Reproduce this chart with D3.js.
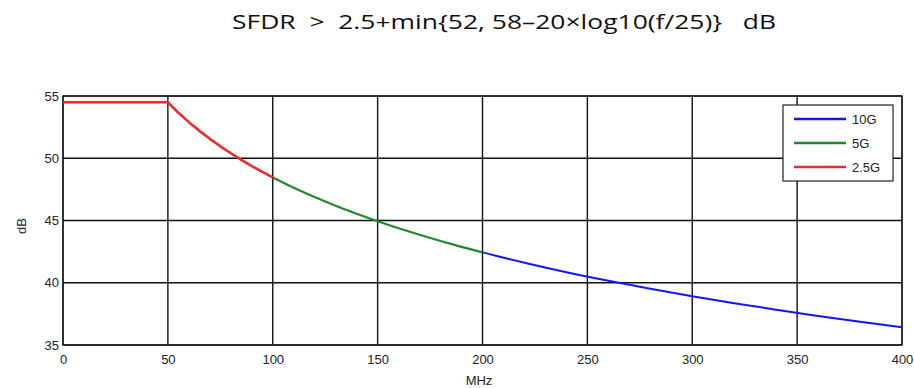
<!DOCTYPE html>
<html><head><meta charset="utf-8">
<script src="https://cdn.jsdelivr.net/npm/d3@7"></script>
<style>body{margin:0;background:#fff}svg{display:block}</style>
</head><body>
<svg id="c" width="914" height="388"></svg>
<script>
const xTicks = [0,50,100,150,200,250,300,350,400];
const yTicks = [35,40,45,50,55];
const redF   = [0,10,20,30,40,50,55,60,65,70,75,80,85,90,95,100];
const redV   = [54.5,54.5,54.5,54.5,54.5,54.5,53.65,52.9,52.2,51.56,50.96,50.4,49.87,49.37,48.9,48.46];
const greenF = [100,110,120,130,140,150,160,170,180,190,200];
const greenV = [48.46,47.63,46.88,46.18,45.54,44.94,44.38,43.85,43.35,42.88,42.44];
const blueF  = [200,220,240,260,280,300,320,340,360,380,400];
const blueV  = [42.44,41.61,40.85,40.16,39.52,38.92,38.36,37.83,37.33,36.86,36.42];
const legendLabels = ["10G","5G","2.5G"];
const colors = ["#1414ff","#23862f","#ec2a2f"];

const svg = d3.select("#c");
const L=63, R=902, T=96, B=345;
const x = d3.scaleLinear().domain([0,400]).range([L,R]);
const y = d3.scaleLinear().domain([35,55]).range([B,T]);

svg.append("text").attr("x",504).attr("y",29).attr("text-anchor","middle")
  .attr("font-family","Open Sans, sans-serif").attr("font-size",20).attr("fill","#111")
  .style("white-space","pre")
  .attr("textLength",544).attr("lengthAdjust","spacingAndGlyphs")
  .text("SFDR  >  2.5+min{52, 58–20×log10(f/25)}   dB");

// grid
const g = svg.append("g");
g.selectAll(".vg").data(xTicks).join("line")
  .attr("x1",d=>x(d)).attr("x2",d=>x(d)).attr("y1",T).attr("y2",B)
  .attr("stroke","#111").attr("stroke-width",1.4);
g.selectAll(".hg").data(yTicks).join("line")
  .attr("x1",L).attr("x2",R).attr("y1",d=>y(d)).attr("y2",d=>y(d))
  .attr("stroke","#111").attr("stroke-width",1.4);
g.append("rect").attr("x",L).attr("y",T).attr("width",R-L).attr("height",B-T)
  .attr("fill","none").attr("stroke","#222").attr("stroke-width",1.4);

// axes labels
const xa = d3.axisBottom(x).tickValues(xTicks).tickSize(0).tickPadding(10);
svg.append("g").attr("transform",`translate(0,${B})`).call(xa)
  .call(s=>s.select(".domain").remove())
  .selectAll("text").attr("font-family","Liberation Sans, Arial, sans-serif").attr("font-size",13).attr("fill","#222");
const ya = d3.axisLeft(y).tickValues(yTicks).tickSize(0).tickPadding(4);
svg.append("g").attr("transform",`translate(${L},0)`).call(ya)
  .call(s=>s.select(".domain").remove())
  .selectAll("text").attr("font-family","Liberation Sans, Arial, sans-serif").attr("font-size",13).attr("fill","#222");

svg.append("text").attr("x",479).attr("y",385).attr("text-anchor","middle")
  .attr("font-family","Liberation Sans, Arial, sans-serif").attr("font-size",13).attr("fill","#222").text("MHz");
svg.append("text").attr("transform","translate(26,226) rotate(-90)").attr("text-anchor","middle")
  .attr("font-family","Liberation Sans, Arial, sans-serif").attr("font-size",13).attr("fill","#222").text("dB");

// lines
const smooth = d3.line().x(d=>x(d[0])).y(d=>y(d[1])).curve(d3.curveMonotoneX);
const straight = d3.line().x(d=>x(d[0])).y(d=>y(d[1]));
const series = [
  {f:blueF, v:blueV, c:colors[0], w:2, gen:smooth},
  {f:greenF, v:greenV, c:colors[1], w:2.2, gen:smooth},
  {f:redF, v:redV, c:colors[2], w:2.6, gen:straight}
];
series.forEach(s=>{
  svg.append("path").datum(s.f.map((f,i)=>[f,s.v[i]])).attr("d",s.gen)
    .attr("fill","none").attr("stroke",s.c).attr("stroke-width",s.w).attr("stroke-linejoin","round");
});

// legend
const lg = svg.append("g");
lg.append("rect").attr("x",783).attr("y",105).attr("width",110).attr("height",76)
  .attr("fill","#fff").attr("stroke","#222").attr("stroke-width",1.2);
legendLabels.forEach((lab,i)=>{
  const yy = 119 + i*24;
  lg.append("line").attr("x1",794).attr("x2",846).attr("y1",yy).attr("y2",yy)
    .attr("stroke",colors[i]).attr("stroke-width",2.5);
  lg.append("text").attr("x",852).attr("y",yy+5).attr("font-family","Liberation Sans, Arial, sans-serif")
    .attr("font-size",13).attr("fill","#222").text(lab);
});
</script>
</body></html>
